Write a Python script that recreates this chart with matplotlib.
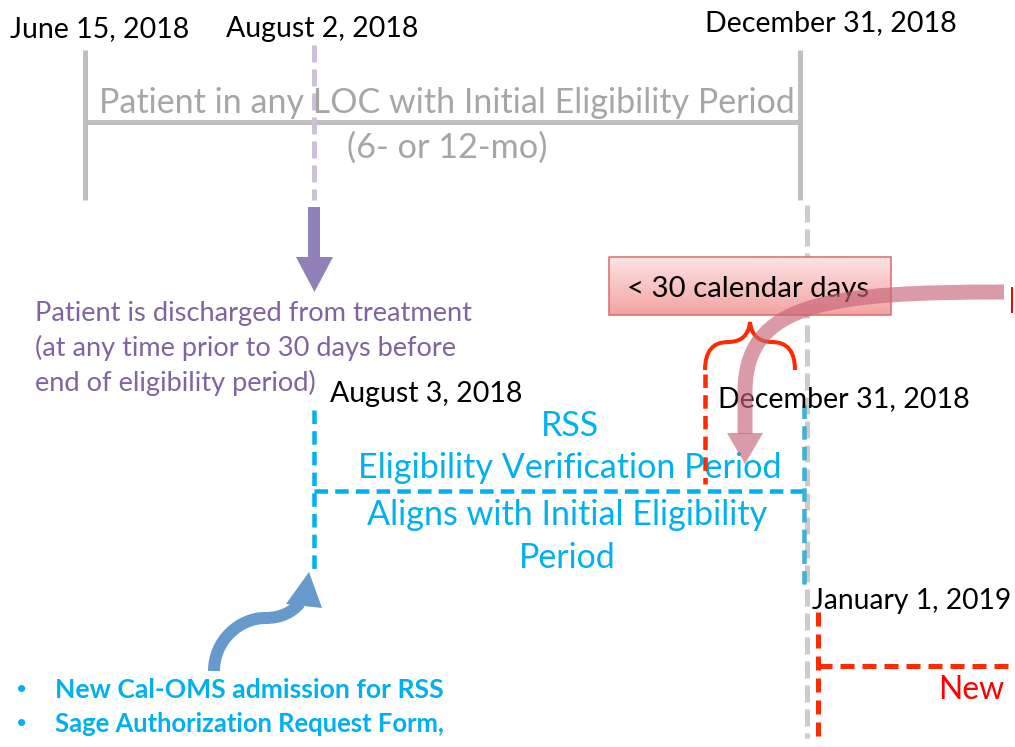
import numpy as np
import matplotlib.pyplot as plt
from matplotlib.path import Path
from matplotlib.patches import PathPatch, Polygon, Rectangle
from matplotlib.colors import LinearSegmentedColormap

plt.rcParams['font.family'] = ['Lato', 'DejaVu Sans']

# тексты диаграммы
top_dates = ["June 15, 2018", "August 2, 2018", "December 31, 2018"]
initial_period = ["Patient in any LOC with Initial Eligibility Period", "(6- or 12-mo)"]
discharge_note = ["Patient is discharged from treatment",
                  "(at any time prior to 30 days before",
                  "end of eligibility period)"]
rss_dates = ["August 3, 2018", "December 31, 2018"]
rss_upper = ["RSS", "Eligibility Verification Period"]
rss_lower = ["Aligns with Initial Eligibility", "Period"]
window_label = "< 30 calendar days"
new_date = "January 1, 2019"
new_label = "New"
bullets = ["New Cal-OMS admission for RSS", "Sage Authorization Request Form,"]

GRAY = '#bfbfbf'
GRAY_TXT = '#a6a6a6'
PURPLE = '#8064a2'
BLUE = '#00b0f0'
RED = '#ff2a00'

fig = plt.figure(figsize=(10.15, 7.47), dpi=100)
ax = fig.add_axes([0, 0, 1, 1])
ax.set_xlim(0, 1015)
ax.set_ylim(747, 0)
ax.axis('off')
renderer = fig.canvas.get_renderer()

def px(w):
    # пиксели -> пункты
    return w * 0.72

def fit(t, width):
    # подгоняем размер шрифта под ширину в пикселях
    w = t.get_window_extent(renderer).width
    t.set_fontsize(t.get_fontsize() * width / w)
    return t

def text(x, y, s, width, color='black', ha='left', weight='normal'):
    t = ax.text(x, y, s, color=color, ha=ha, va='center', fontsize=20,
                fontweight=weight)
    return fit(t, width)

# --- исходный период (серый) ---
ax.plot([85, 85], [50, 200], color=GRAY, lw=px(5), solid_capstyle='butt')
ax.plot([800, 800], [50, 200], color=GRAY, lw=px(5), solid_capstyle='butt')
ax.plot([85, 800], [122, 122], color=GRAY, lw=px(5), solid_capstyle='butt')
text(447, 103, initial_period[0], 697, GRAY_TXT, ha='center')
text(447, 148, initial_period[1], 200, GRAY_TXT, ha='center')

# даты сверху
text(10, 29, top_dates[0], 180)
text(322, 29, top_dates[1], 192, ha='center')
text(831, 23, top_dates[2], 252, ha='center')

# вертикальные пунктиры
ax.plot([314, 314], [45, 200], color='#ccc0da', lw=px(5),
        linestyle=(0, (3.4, 1.4)))
ax.plot([807, 807], [205, 738], color='#cccccc', lw=px(5),
        linestyle=(0, (3.4, 1.4)))

# фиолетовая стрелка вниз
ax.add_patch(Rectangle((308, 207), 12, 52, color='#9181b9', lw=0))
ax.add_patch(Polygon([(296, 257), (333, 257), (314.5, 292)], closed=True,
                     color='#9181b9', lw=0))
for i, s in enumerate(discharge_note):
    w = [438, 422, 283][i]
    text(35, 313 + i * 35, s, w, PURPLE)

# --- период RSS (голубой) ---
ax.plot([314, 314], [410, 572], color=BLUE, lw=px(4.5),
        linestyle=(0, (3.0, 1.6)))
ax.plot([314, 806], [491, 491], color=BLUE, lw=px(4.5),
        linestyle=(0, (3.0, 1.6)))
ax.plot([804, 804], [405, 585], color='#3fb0d6', lw=px(4.5),
        linestyle=(0, (3.0, 1.6)))
text(330, 394, rss_dates[0], 192)
text(718, 399, rss_dates[1], 252)
text(570, 426, rss_upper[0], 58, BLUE, ha='center')
text(570, 468, rss_upper[1], 425, BLUE, ha='center')
text(567, 515, rss_lower[0], 402, BLUE, ha='center')
text(567, 558, rss_lower[1], 97, BLUE, ha='center')

# --- окно < 30 дней ---
grad = np.linspace(0, 1, 50).reshape(-1, 1)
box = Rectangle((609, 257), 282, 58, facecolor='none', edgecolor='#d46a6a',
                lw=px(1.5), zorder=3)
img = ax.imshow(grad, extent=(609, 891, 315, 257), aspect='auto',
                cmap=LinearSegmentedColormap.from_list(
                    'pink', ['#fde3e3', '#f3a3a3']), zorder=2)
ax.add_patch(box)
img.set_clip_path(box)
ax.set_xlim(0, 1015)
ax.set_ylim(747, 0)
t = text(748, 289, window_label, 242, ha='center')
t.set_zorder(4)

# фигурная скобка
brace = Path([(705, 370), (705, 342), (728, 342),
              (748, 342), (750, 322),
              (752, 342), (772, 342),
              (795, 342), (795, 370)],
             [Path.MOVETO, Path.CURVE3, Path.CURVE3,
              Path.CURVE3, Path.CURVE3,
              Path.CURVE3, Path.CURVE3,
              Path.CURVE3, Path.CURVE3])
ax.add_patch(PathPatch(brace, fill=False, edgecolor=RED, lw=px(4), zorder=5))
ax.plot([705, 705], [374, 484], color=RED, lw=px(4.5),
        linestyle=(0, (3.0, 1.6)), zorder=5)

# розовая изогнутая стрелка
pink = '#c86478'
shaft = Path([(1004, 292), (830, 292), (745, 302), (745, 392), (745, 434)],
             [Path.MOVETO, Path.CURVE4, Path.CURVE4, Path.CURVE4, Path.LINETO])
ax.add_patch(PathPatch(shaft, fill=False, edgecolor=pink, lw=px(15),
                       alpha=0.65, capstyle='butt', zorder=6))
ax.add_patch(Polygon([(727, 433), (763, 433), (745, 464)], closed=True,
                     color=pink, alpha=0.65, lw=0, zorder=6))
ax.plot([1012, 1012], [288, 312], color='#ff0000', lw=px(2))

# --- новый период ---
text(812, 601, new_date, 200)
ax.plot([818, 818], [612, 738], color=RED, lw=px(5),
        linestyle=(0, (2.8, 1.6)))
ax.plot([818, 1015], [666, 666], color=RED, lw=px(5),
        linestyle=(0, (2.8, 1.6)))
text(938, 690, new_label, 66, '#ff0000')

# голубая изогнутая стрелка
blue_arrow = '#6699cc'
curve = Path([(214, 671), (214, 640), (240, 618), (265, 618),
              (282, 618), (292, 612), (300, 603)],
             [Path.MOVETO, Path.CURVE4, Path.CURVE4, Path.CURVE4,
              Path.CURVE4, Path.CURVE4, Path.CURVE4])
ax.add_patch(PathPatch(curve, fill=False, edgecolor=blue_arrow, lw=px(12),
                       capstyle='butt'))
ax.add_patch(Polygon([(286, 604), (322, 608), (309, 572)], closed=True,
                     color=blue_arrow, lw=0))

# список
for i, s in enumerate(bullets):
    y = 690 + i * 34
    ax.text(22, y, '•', color=BLUE, ha='center', va='center', fontsize=14)
    text(55, y, s, [389, 389][i], BLUE, weight='bold')

fig.savefig('out.png', dpi=100)
